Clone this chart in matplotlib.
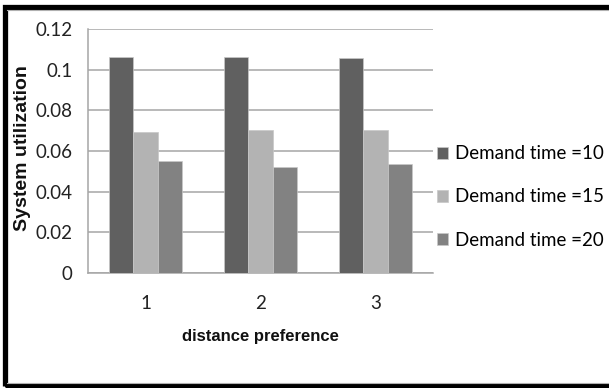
import matplotlib.pyplot as plt
import numpy as np
from matplotlib.patches import Rectangle
from matplotlib.lines import Line2D

categories = ['1', '2', '3']
series_names = ['Demand time =10', 'Demand time =15', 'Demand time =20']
demand_10 = [0.1064, 0.1064, 0.1059]
demand_15 = [0.0695, 0.0702, 0.0703]
demand_20 = [0.0552, 0.0523, 0.0535]
yticks = [0, 0.02, 0.04, 0.06, 0.08, 0.1, 0.12]
ytick_labels = ['0', '0.02', '0.04', '0.06', '0.08', '0.1', '0.12']

colors = ['#606060', '#b3b3b3', '#828282']
tick_font = ['Lato', 'DejaVu Sans']
label_font = ['Liberation Sans', 'DejaVu Sans']

W, H = 609, 388
fig = plt.figure(figsize=(W / 100, H / 100), dpi=100)
fig.patch.set_facecolor('white')

# plot area in pixel terms
ax = fig.add_axes([88 / W, 1 - 273 / H, (433 - 88) / W, (273 - 29) / H])

x = np.arange(len(categories))
width = 0.213
bars = []
for i, vals in enumerate([demand_10, demand_15, demand_20]):
    b = ax.bar(x + (i - 1) * width, vals, width, color=colors[i],
               edgecolor='#c8c8c8', linewidth=0.5, zorder=3,
               label=series_names[i])
    bars.append(b)

ax.set_xlim(-0.5, 2.5)
ax.set_ylim(0, 0.12)
ax.set_yticks(yticks)
ax.set_yticklabels(ytick_labels, family=tick_font, fontsize=13.5, color='#222222')
ax.set_xticks(x)
ax.set_xticklabels(categories, family=tick_font, fontsize=13.5, color='#222222')
ax.tick_params(axis='y', length=0, pad=11)
ax.tick_params(axis='x', length=0, pad=16)

ax.grid(axis='y', color='#a6a6a6', linewidth=1.1, zorder=0)
for s in ['top', 'right']:
    ax.spines[s].set_visible(False)
for s in ['left', 'bottom']:
    ax.spines[s].set_color('#a6a6a6')
    ax.spines[s].set_linewidth(1.1)

fig.text(260.5 / W, 1 - 337 / H, 'distance preference', family=label_font,
         fontweight='bold', fontsize=12, ha='center', va='center', color='#111111')
fig.text(23 / W, 1 - 148 / H, 'System utilization', family=label_font,
         fontweight='bold', fontsize=14, ha='center', va='center',
         rotation=90, color='#111111')

fig.legend(handles=[b[0] for b in bars], labels=series_names,
           loc='center left', bbox_to_anchor=(437 / W, 1 - 197 / H),
           frameon=False, prop={'family': tick_font, 'size': 13.5},
           handlelength=0.6, handleheight=0.6, handletextpad=0.35,
           labelspacing=1.4, borderaxespad=0, borderpad=0)

# black frame around the figure (open on the right)
fig.add_artist(Rectangle((4.5 / W, 2.5 / H), 620 / W, 379 / H,
                         transform=fig.transFigure, fill=False,
                         edgecolor='black', linewidth=3.8))
fig.add_artist(Line2D([7 / W, 1], [1 - 9.5 / H, 1 - 9.5 / H],
                      transform=fig.transFigure, color='#b0b0b0', linewidth=0.8))
fig.add_artist(Line2D([7 / W, 1], [5.5 / H, 5.5 / H],
                      transform=fig.transFigure, color='#b0b0b0', linewidth=0.8))

fig.savefig('out.png', dpi=100)
